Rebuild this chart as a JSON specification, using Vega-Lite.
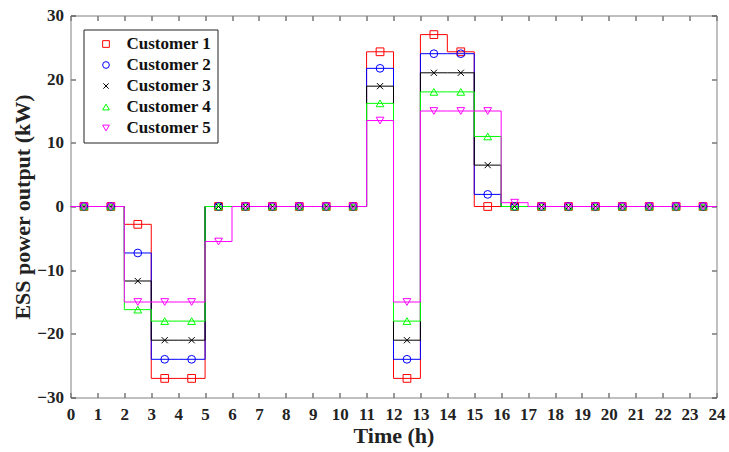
{
  "$schema": "https://vega.github.io/schema/vega-lite/v6.json",
  "width": 646,
  "height": 382,
  "autosize": "none",
  "padding": {"left": 70.5, "top": 15.5, "right": 12.5, "bottom": 54.5},
  "background": "white",
  "config": {
    "view": {"stroke": null},
    "font": "Liberation Serif",
    "axis": {
      "grid": false,
      "zindex": 1,
      "domainColor": "#808080",
      "labelFont": "Liberation Serif",
      "labelFontWeight": "bold",
      "labelFontSize": 17,
      "labelColor": "#222222",
      "titleFont": "Liberation Serif",
      "titleFontWeight": "bold",
      "titleFontSize": 22,
      "titleColor": "#222222"
    },
    "legend": {
      "title": null,
      "orient": "none",
      "legendX": 13,
      "legendY": 14,
      "strokeColor": "#222222",
      "fillColor": "white",
      "padding": 6,
      "rowPadding": 3,
      "symbolOffset": 8,
      "labelOffset": 12,
      "labelFont": "Liberation Serif",
      "labelFontWeight": "bold",
      "labelFontSize": 17,
      "labelColor": "#111111",
      "symbolSize": 45,
      "symbolStrokeWidth": 1,
      "symbolFillColor": "transparent"
    }
  },
  "data": {
    "values": [
      {"c": "Customer 1", "t": 0, "p": 0, "m": 0},
      {"c": "Customer 1", "t": 0.5, "p": 0, "m": 1},
      {"c": "Customer 1", "t": 1.5, "p": 0, "m": 1},
      {"c": "Customer 1", "t": 2.5, "p": -2.8, "m": 1},
      {"c": "Customer 1", "t": 3.5, "p": -27, "m": 1},
      {"c": "Customer 1", "t": 4.5, "p": -27, "m": 1},
      {"c": "Customer 1", "t": 5.5, "p": 0, "m": 1},
      {"c": "Customer 1", "t": 6.5, "p": 0, "m": 1},
      {"c": "Customer 1", "t": 7.5, "p": 0, "m": 1},
      {"c": "Customer 1", "t": 8.5, "p": 0, "m": 1},
      {"c": "Customer 1", "t": 9.5, "p": 0, "m": 1},
      {"c": "Customer 1", "t": 10.5, "p": 0, "m": 1},
      {"c": "Customer 1", "t": 11.5, "p": 24.3, "m": 1},
      {"c": "Customer 1", "t": 12.5, "p": -27, "m": 1},
      {"c": "Customer 1", "t": 13.5, "p": 27, "m": 1},
      {"c": "Customer 1", "t": 14.5, "p": 24.3, "m": 1},
      {"c": "Customer 1", "t": 15.5, "p": 0, "m": 1},
      {"c": "Customer 1", "t": 16.5, "p": 0, "m": 1},
      {"c": "Customer 1", "t": 17.5, "p": 0, "m": 1},
      {"c": "Customer 1", "t": 18.5, "p": 0, "m": 1},
      {"c": "Customer 1", "t": 19.5, "p": 0, "m": 1},
      {"c": "Customer 1", "t": 20.5, "p": 0, "m": 1},
      {"c": "Customer 1", "t": 21.5, "p": 0, "m": 1},
      {"c": "Customer 1", "t": 22.5, "p": 0, "m": 1},
      {"c": "Customer 1", "t": 23.5, "p": 0, "m": 1},
      {"c": "Customer 1", "t": 24, "p": 0, "m": 0},

      {"c": "Customer 2", "t": 0, "p": 0, "m": 0},
      {"c": "Customer 2", "t": 0.5, "p": 0, "m": 1},
      {"c": "Customer 2", "t": 1.5, "p": 0, "m": 1},
      {"c": "Customer 2", "t": 2.5, "p": -7.3, "m": 1},
      {"c": "Customer 2", "t": 3.5, "p": -24, "m": 1},
      {"c": "Customer 2", "t": 4.5, "p": -24, "m": 1},
      {"c": "Customer 2", "t": 5.5, "p": 0, "m": 1},
      {"c": "Customer 2", "t": 6.5, "p": 0, "m": 1},
      {"c": "Customer 2", "t": 7.5, "p": 0, "m": 1},
      {"c": "Customer 2", "t": 8.5, "p": 0, "m": 1},
      {"c": "Customer 2", "t": 9.5, "p": 0, "m": 1},
      {"c": "Customer 2", "t": 10.5, "p": 0, "m": 1},
      {"c": "Customer 2", "t": 11.5, "p": 21.7, "m": 1},
      {"c": "Customer 2", "t": 12.5, "p": -24, "m": 1},
      {"c": "Customer 2", "t": 13.5, "p": 24, "m": 1},
      {"c": "Customer 2", "t": 14.5, "p": 24, "m": 1},
      {"c": "Customer 2", "t": 15.5, "p": 1.9, "m": 1},
      {"c": "Customer 2", "t": 16.5, "p": 0, "m": 1},
      {"c": "Customer 2", "t": 17.5, "p": 0, "m": 1},
      {"c": "Customer 2", "t": 18.5, "p": 0, "m": 1},
      {"c": "Customer 2", "t": 19.5, "p": 0, "m": 1},
      {"c": "Customer 2", "t": 20.5, "p": 0, "m": 1},
      {"c": "Customer 2", "t": 21.5, "p": 0, "m": 1},
      {"c": "Customer 2", "t": 22.5, "p": 0, "m": 1},
      {"c": "Customer 2", "t": 23.5, "p": 0, "m": 1},
      {"c": "Customer 2", "t": 24, "p": 0, "m": 0},

      {"c": "Customer 3", "t": 0, "p": 0, "m": 0},
      {"c": "Customer 3", "t": 0.5, "p": 0, "m": 1},
      {"c": "Customer 3", "t": 1.5, "p": 0, "m": 1},
      {"c": "Customer 3", "t": 2.5, "p": -11.7, "m": 1},
      {"c": "Customer 3", "t": 3.5, "p": -21, "m": 1},
      {"c": "Customer 3", "t": 4.5, "p": -21, "m": 1},
      {"c": "Customer 3", "t": 5.5, "p": 0, "m": 1},
      {"c": "Customer 3", "t": 6.5, "p": 0, "m": 1},
      {"c": "Customer 3", "t": 7.5, "p": 0, "m": 1},
      {"c": "Customer 3", "t": 8.5, "p": 0, "m": 1},
      {"c": "Customer 3", "t": 9.5, "p": 0, "m": 1},
      {"c": "Customer 3", "t": 10.5, "p": 0, "m": 1},
      {"c": "Customer 3", "t": 11.5, "p": 18.9, "m": 1},
      {"c": "Customer 3", "t": 12.5, "p": -21, "m": 1},
      {"c": "Customer 3", "t": 13.5, "p": 21, "m": 1},
      {"c": "Customer 3", "t": 14.5, "p": 21, "m": 1},
      {"c": "Customer 3", "t": 15.5, "p": 6.5, "m": 1},
      {"c": "Customer 3", "t": 16.5, "p": 0, "m": 1},
      {"c": "Customer 3", "t": 17.5, "p": 0, "m": 1},
      {"c": "Customer 3", "t": 18.5, "p": 0, "m": 1},
      {"c": "Customer 3", "t": 19.5, "p": 0, "m": 1},
      {"c": "Customer 3", "t": 20.5, "p": 0, "m": 1},
      {"c": "Customer 3", "t": 21.5, "p": 0, "m": 1},
      {"c": "Customer 3", "t": 22.5, "p": 0, "m": 1},
      {"c": "Customer 3", "t": 23.5, "p": 0, "m": 1},
      {"c": "Customer 3", "t": 24, "p": 0, "m": 0},

      {"c": "Customer 4", "t": 0, "p": 0, "m": 0},
      {"c": "Customer 4", "t": 0.5, "p": 0, "m": 1},
      {"c": "Customer 4", "t": 1.5, "p": 0, "m": 1},
      {"c": "Customer 4", "t": 2.5, "p": -16.2, "m": 1},
      {"c": "Customer 4", "t": 3.5, "p": -18, "m": 1},
      {"c": "Customer 4", "t": 4.5, "p": -18, "m": 1},
      {"c": "Customer 4", "t": 5.5, "p": 0, "m": 1},
      {"c": "Customer 4", "t": 6.5, "p": 0, "m": 1},
      {"c": "Customer 4", "t": 7.5, "p": 0, "m": 1},
      {"c": "Customer 4", "t": 8.5, "p": 0, "m": 1},
      {"c": "Customer 4", "t": 9.5, "p": 0, "m": 1},
      {"c": "Customer 4", "t": 10.5, "p": 0, "m": 1},
      {"c": "Customer 4", "t": 11.5, "p": 16.2, "m": 1},
      {"c": "Customer 4", "t": 12.5, "p": -18, "m": 1},
      {"c": "Customer 4", "t": 13.5, "p": 18, "m": 1},
      {"c": "Customer 4", "t": 14.5, "p": 18, "m": 1},
      {"c": "Customer 4", "t": 15.5, "p": 11, "m": 1},
      {"c": "Customer 4", "t": 16.5, "p": 0, "m": 1},
      {"c": "Customer 4", "t": 17.5, "p": 0, "m": 1},
      {"c": "Customer 4", "t": 18.5, "p": 0, "m": 1},
      {"c": "Customer 4", "t": 19.5, "p": 0, "m": 1},
      {"c": "Customer 4", "t": 20.5, "p": 0, "m": 1},
      {"c": "Customer 4", "t": 21.5, "p": 0, "m": 1},
      {"c": "Customer 4", "t": 22.5, "p": 0, "m": 1},
      {"c": "Customer 4", "t": 23.5, "p": 0, "m": 1},
      {"c": "Customer 4", "t": 24, "p": 0, "m": 0},

      {"c": "Customer 5", "t": 0, "p": 0, "m": 0},
      {"c": "Customer 5", "t": 0.5, "p": 0, "m": 1},
      {"c": "Customer 5", "t": 1.5, "p": 0, "m": 1},
      {"c": "Customer 5", "t": 2.5, "p": -15, "m": 1},
      {"c": "Customer 5", "t": 3.5, "p": -15, "m": 1},
      {"c": "Customer 5", "t": 4.5, "p": -15, "m": 1},
      {"c": "Customer 5", "t": 5.5, "p": -5.5, "m": 1},
      {"c": "Customer 5", "t": 6.5, "p": 0, "m": 1},
      {"c": "Customer 5", "t": 7.5, "p": 0, "m": 1},
      {"c": "Customer 5", "t": 8.5, "p": 0, "m": 1},
      {"c": "Customer 5", "t": 9.5, "p": 0, "m": 1},
      {"c": "Customer 5", "t": 10.5, "p": 0, "m": 1},
      {"c": "Customer 5", "t": 11.5, "p": 13.5, "m": 1},
      {"c": "Customer 5", "t": 12.5, "p": -15, "m": 1},
      {"c": "Customer 5", "t": 13.5, "p": 15, "m": 1},
      {"c": "Customer 5", "t": 14.5, "p": 15, "m": 1},
      {"c": "Customer 5", "t": 15.5, "p": 15, "m": 1},
      {"c": "Customer 5", "t": 16.5, "p": 0.6, "m": 1},
      {"c": "Customer 5", "t": 17.5, "p": 0, "m": 1},
      {"c": "Customer 5", "t": 18.5, "p": 0, "m": 1},
      {"c": "Customer 5", "t": 19.5, "p": 0, "m": 1},
      {"c": "Customer 5", "t": 20.5, "p": 0, "m": 1},
      {"c": "Customer 5", "t": 21.5, "p": 0, "m": 1},
      {"c": "Customer 5", "t": 22.5, "p": 0, "m": 1},
      {"c": "Customer 5", "t": 23.5, "p": 0, "m": 1},
      {"c": "Customer 5", "t": 24, "p": 0, "m": 0}
    ]
  },
  "layer": [
    {
      "mark": {"type": "line", "interpolate": "step", "strokeWidth": 1, "opacity": 1},
      "encoding": {
        "x": {
          "field": "t", "type": "quantitative",
          "scale": {"domain": [0, 24], "nice": false},
          "axis": {"values": [0,1,2,3,4,5,6,7,8,9,10,11,12,13,14,15,16,17,18,19,20,21,22,23,24], "title": "Time (h)", "ticks": true, "tickSize": -5, "tickColor": "#333333", "tickWidth": 1, "tickOpacity": 1, "labelPadding": 14, "titlePadding": 3, "labelFlush": false}
        },
        "y": {
          "field": "p", "type": "quantitative",
          "scale": {"domain": [-30, 30], "nice": false},
          "axis": {"values": [-30, -20, -10, 0, 10, 20, 30], "title": "ESS power output (kW)", "ticks": true, "tickSize": -5, "tickColor": "#333333", "tickWidth": 1, "tickOpacity": 1, "labelPadding": 12, "titlePadding": 2, "labelFlush": false}
        },
        "color": {
          "field": "c", "type": "nominal",
          "scale": {"domain": ["Customer 1", "Customer 2", "Customer 3", "Customer 4", "Customer 5"], "range": ["#ff0000", "#0000ff", "#000000", "#00ff00", "#ff00ff"]}
        },
        "order": {"field": "t", "type": "quantitative"}
      }
    },
    {
      "transform": [{"filter": "datum.m == 1"}],
      "mark": {"type": "point", "filled": false, "size": 60, "strokeWidth": 1, "opacity": 1},
      "encoding": {
        "x": {
          "field": "t", "type": "quantitative",
          "axis": {"orient": "top", "values": [0,1,2,3,4,5,6,7,8,9,10,11,12,13,14,15,16,17,18,19,20,21,22,23,24], "labels": false, "title": null, "ticks": true, "tickSize": -5, "tickColor": "#333333", "tickWidth": 1, "tickOpacity": 1}
        },
        "y": {
          "field": "p", "type": "quantitative",
          "axis": {"orient": "right", "values": [-30, -20, -10, 0, 10, 20, 30], "labels": false, "title": null, "ticks": true, "tickSize": -5, "tickColor": "#333333", "tickWidth": 1, "tickOpacity": 1}
        },
        "color": {"field": "c", "type": "nominal"},
        "shape": {
          "field": "c", "type": "nominal",
          "scale": {"domain": ["Customer 1", "Customer 2", "Customer 3", "Customer 4", "Customer 5"], "range": ["square", "circle", "M-0.8,-0.8L0.8,0.8M-0.8,0.8L0.8,-0.8", "triangle-up", "triangle-down"]}
        }
      }
    }
  ],
  "resolve": {"axis": {"x": "independent", "y": "independent"}}
}
